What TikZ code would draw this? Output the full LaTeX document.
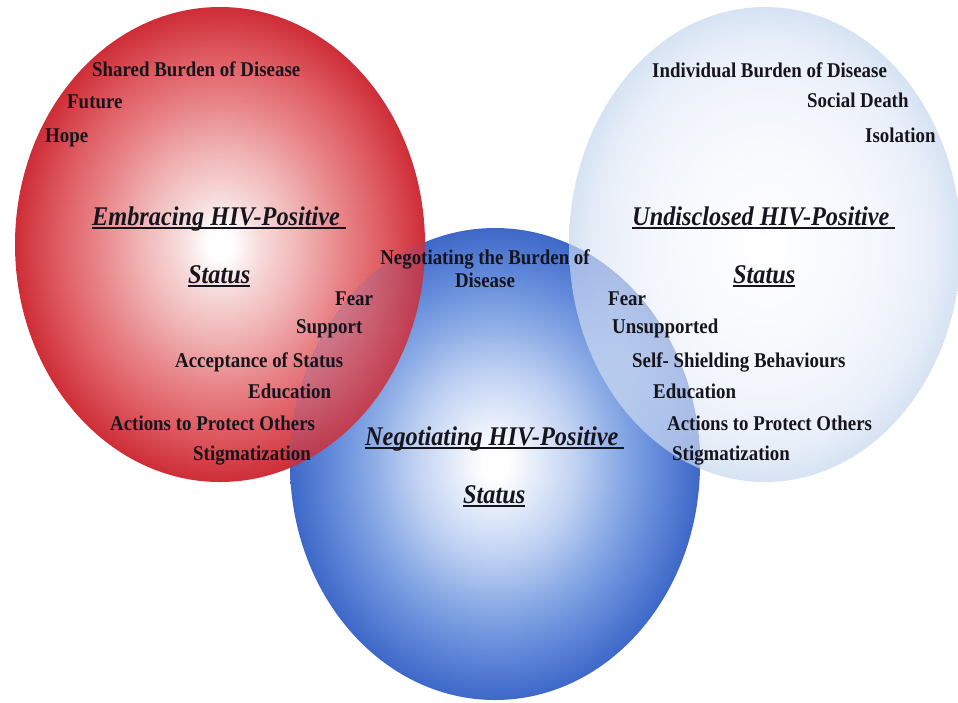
\documentclass[tikz,border=0pt]{standalone}
\usepackage{fontspec}
\setmainfont{Liberation Serif}
\newfontfamily\labfont[FakeStretch=0.9]{Liberation Serif}
\definecolor{rA}{RGB}{247,218,218}
\definecolor{rB}{RGB}{240,178,179}
\definecolor{rC}{RGB}{232,132,136}
\definecolor{rD}{RGB}{222,90,96}
\definecolor{rE}{RGB}{206,45,55}
\definecolor{bA}{RGB}{228,236,250}
\definecolor{bB}{RGB}{190,208,242}
\definecolor{bC}{RGB}{140,172,230}
\definecolor{bD}{RGB}{98,137,218}
\definecolor{bE}{RGB}{62,104,200}
\definecolor{lA}{RGB}{250,251,254}
\definecolor{lB}{RGB}{243,246,252}
\definecolor{lC}{RGB}{233,239,249}
\definecolor{lD}{RGB}{214,227,243}
\definecolor{txt}{RGB}{22,20,28}
\pgfdeclareradialshading{redball}{\pgfpoint{0bp}{0bp}}{color(0bp)=(white); color(1.5bp)=(white); color(5bp)=(rA); color(10bp)=(rB); color(15bp)=(rC); color(20bp)=(rD); color(25bp)=(rE); color(50bp)=(rE)}
\pgfdeclareradialshading{blueball}{\pgfpoint{0bp}{0bp}}{color(0bp)=(white); color(1.5bp)=(white); color(5bp)=(bA); color(10bp)=(bB); color(15bp)=(bC); color(20bp)=(bD); color(25bp)=(bE); color(50bp)=(bE)}
\pgfdeclareradialshading{lightball}{\pgfpoint{0bp}{0bp}}{color(0bp)=(white); color(7.5bp)=(lA); color(15bp)=(lB); color(21bp)=(lC); color(25bp)=(lD); color(50bp)=(lD)}
\newcommand\myunder[1]{\setbox0\hbox{#1}\rlap{\rule[-3.6pt]{\wd0}{1.3pt}}\box0}
\tikzset{
  lab/.style={anchor=base west, inner sep=0pt, text=txt, font={\labfont\bfseries\fontsize{21}{23}\selectfont}},
  ttl/.style={anchor=base west, inner sep=0pt, text=txt, font={\labfont\bfseries\itshape\fontsize{27}{30}\selectfont}},
}
\begin{document}
\begin{tikzpicture}[x=1pt,y=-1pt]
\useasboundingbox (0,0) rectangle (958,702);
% circles
\shade[shading=redball] (220,244.5) ellipse [x radius=205pt, y radius=237.5pt];
\shade[shading=lightball] (765,244.5) ellipse [x radius=196pt, y radius=237.5pt];
\shade[shading=blueball] (495,464) ellipse [x radius=205pt, y radius=236pt];
\begin{scope}
  \clip (495,464) ellipse [x radius=205pt, y radius=236pt];
  \shade[shading=redball, opacity=0.85] (220,244.5) ellipse [x radius=205pt, y radius=237.5pt];
  \shade[shading=lightball, opacity=0.62] (765,244.5) ellipse [x radius=196pt, y radius=237.5pt];
\end{scope}
% left
\node[lab] (l1) at (92,76) {Shared Burden of Disease};
\node[lab] (l2) at (67,108) {Future};
\node[lab] (l3) at (45,142) {Hope};
\node[ttl] (lt1) at (92,225) {\myunder{Embracing HIV-Positive\ }};
\node[ttl] (lt2) at (188,283) {\myunder{Status}};
\node[lab] (l4) at (335,305) {Fear};
\node[lab] (l5) at (296,333) {Support};
\node[lab] (l6) at (175,367) {Acceptance of Status};
\node[lab] (l7) at (248,398) {Education};
\node[lab] (l8) at (110,430) {Actions to Protect Others};
\node[lab] (l9) at (193,460) {Stigmatization};
% centre
\node[lab, anchor=north, align=center] (c1) at (485,249.5) {Negotiating the Burden of\\Disease};
\node[ttl] (ct1) at (365,445) {\myunder{Negotiating HIV-Positive\ }};
\node[ttl] (ct2) at (463,503) {\myunder{Status}};
% right
\node[lab] (r1) at (652,77) {Individual Burden of Disease};
\node[lab] (r2) at (807,107) {Social Death};
\node[lab] (r3) at (865,142) {Isolation};
\node[ttl] (rt1) at (632,225) {\myunder{Undisclosed HIV-Positive\ }};
\node[ttl] (rt2) at (733,283) {\myunder{Status}};
\node[lab] (r4) at (608,305) {Fear};
\node[lab] (r5) at (612,333) {Unsupported};
\node[lab] (r6) at (632,367) {Self- Shielding Behaviours};
\node[lab] (r7) at (653,398) {Education};
\node[lab] (r8) at (667,430) {Actions to Protect Others};
\node[lab] (r9) at (672,460) {Stigmatization};
\end{tikzpicture}
\end{document}
